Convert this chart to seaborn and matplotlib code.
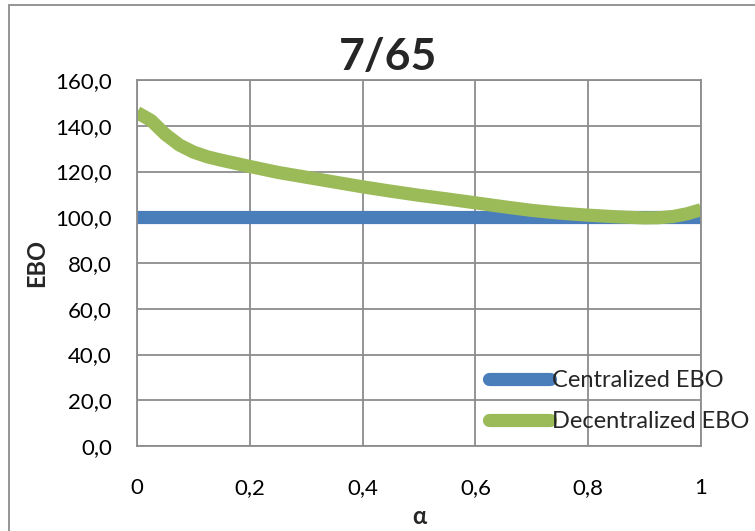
import matplotlib
matplotlib.use("Agg")
import matplotlib.pyplot as plt
from matplotlib.patches import Rectangle
from matplotlib.lines import Line2D
import seaborn as sns
import pandas as pd

# alpha grid and EBO values for both policies
alpha = [0.0, 0.025, 0.05, 0.075, 0.1, 0.125, 0.15, 0.2, 0.25, 0.3, 0.35, 0.4, 0.45, 0.5,
         0.55, 0.6, 0.65, 0.7, 0.75, 0.8, 0.85, 0.9, 0.925, 0.95, 0.975, 1.0]
centralized_ebo = [100.0] * len(alpha)
decentralized_ebo = [145.8, 142.3, 136.3, 131.6, 128.5, 126.4, 124.9, 122.2, 119.6, 117.5, 115.4,
                     113.3, 111.4, 109.6, 108.0, 106.3, 104.6, 103.0, 101.8, 100.9, 100.2, 99.7,
                     99.8, 100.3, 101.5, 103.3]
series_names = ["Centralized EBO", "Decentralized EBO"]
y_ticks = [0, 20, 40, 60, 80, 100, 120, 140, 160]
x_ticks = [0, 0.2, 0.4, 0.6, 0.8, 1.0]
title_text = "7/65"

df = pd.DataFrame({
    "alpha": alpha * 2,
    "EBO": centralized_ebo + decentralized_ebo,
    "series": [series_names[0]] * len(alpha) + [series_names[1]] * len(alpha),
})

sns.set_style("white")
plt.rcParams["font.family"] = ["Lato", "DejaVu Sans"]

fig = plt.figure(figsize=(7.55, 5.31), dpi=100)
ax = fig.add_axes([137 / 755, 1 - 446 / 531, (701 - 137) / 755, (446 - 80) / 531])

palette = {series_names[0]: "#4A7EBB", series_names[1]: "#9BBB59"}
sns.lineplot(data=df, x="alpha", y="EBO", hue="series", palette=palette,
             linewidth=9.5, ax=ax, legend=False, sort=False)
for ln in ax.get_lines():
    ln.set_solid_capstyle("butt")
    ln.set_solid_joinstyle("round")

ax.set_xlim(0, 1)
ax.set_ylim(0, 160)
ax.set_xticks(x_ticks)
ax.set_yticks(y_ticks)
ax.set_xticklabels([("%g" % v).replace(".", ",") for v in x_ticks])
ax.set_yticklabels([("%.1f" % v).replace(".", ",") for v in y_ticks])
ax.tick_params(axis="both", length=0, labelsize=16, colors="#000000")
ax.tick_params(axis="x", pad=23)
ax.tick_params(axis="y", pad=18)

ax.grid(True, color="#8c8c8c", linewidth=1.3)
ax.set_axisbelow(True)
for sp in ax.spines.values():
    sp.set_visible(True)
    sp.set_color("#8c8c8c")
    sp.set_linewidth(1.3)

ax.set_xlabel("α", fontsize=17, fontweight="bold", labelpad=5)
ax.set_ylabel("EBO", fontsize=17, fontweight="bold", labelpad=5)

fig.text(388 / 755, 1 - 57 / 531, title_text, fontsize=32, fontweight="bold",
         ha="center", va="center")

# legend with thick rounded handles
handles = [Line2D([0], [0], color=palette[n], linewidth=9.5, solid_capstyle="round")
           for n in series_names]
fig.legend(handles, series_names, loc="center left",
           bbox_to_anchor=(489 / 755, 1 - 401 / 531), frameon=False,
           fontsize=17, handlelength=2.6, handletextpad=0.05, labelspacing=0.85,
           borderpad=0, borderaxespad=0)

# chart frame
fig.patches.append(Rectangle((9 / 755, -0.2), 2.0, 1.2 - 5 / 531,
                             transform=fig.transFigure, fill=False,
                             edgecolor="#8c8c8c", linewidth=1.3))

fig.savefig("out.png", dpi=100)
